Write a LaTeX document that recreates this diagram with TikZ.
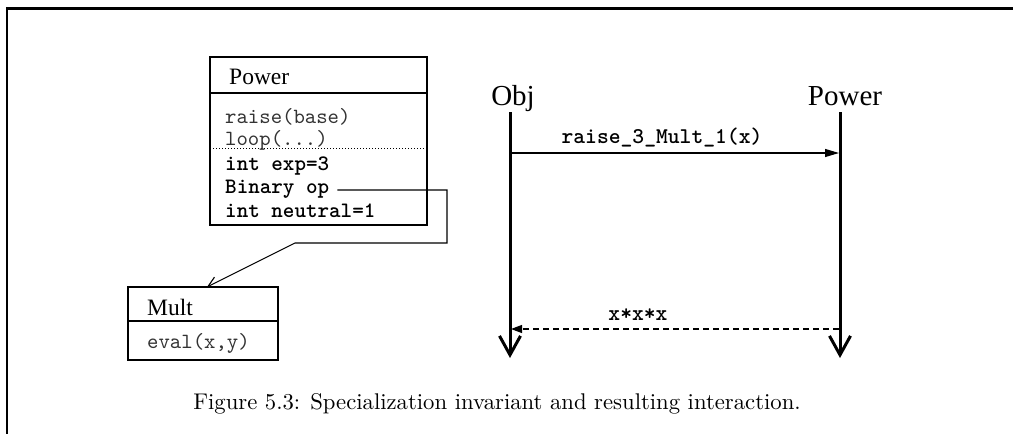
\documentclass[tikz,border=0pt]{standalone}
\usepackage{fontspec}
\usepackage{graphicx}
\usetikzlibrary{arrows.meta}
\newfontfamily\tms{Liberation Serif}
\newcommand{\monotext}[1]{\scalebox{2.17}{\ttfamily #1}}
\newcommand{\monobold}[1]{\scalebox{2.2}{\ttfamily\bfseries #1}}
\newcommand{\msgbold}[1]{\scalebox{2.25}{\ttfamily\bfseries #1}}
\tikzset{
  umlbox/.style={draw, line width=1.1pt},
  boxtitle/.style={anchor=base west, inner sep=0pt, font=\tms\fontsize{23.5}{26}\selectfont},
  optext/.style={anchor=base west, inner sep=0pt, text=black!80},
  attrtext/.style={anchor=base west, inner sep=0pt},
  msgtext/.style={anchor=base, inner sep=0pt},
  objlabel/.style={anchor=base, inner sep=0pt, font=\tms\fontsize{29}{32}\selectfont},
  lifeline/.style={line width=3pt, -{Straight Barb[length=19pt, width=21pt, line width=3pt]}},
  msg/.style={line width=1.1pt, -{Triangle[length=14pt, width=8pt]}},
  retmsg/.style={line width=1.1pt, dash pattern=on 6pt off 4pt, -{Triangle[length=11pt, width=8pt]}},
  link/.style={line width=1.1pt, -{Straight Barb[length=10pt, width=11pt, line width=1.1pt]}}
}
\begin{document}
\begin{tikzpicture}[x=1pt, y=-1pt]
  \useasboundingbox (0,0) rectangle (1013,434);
  % frame
  \draw[line width=2.6pt, line join=miter] (7,434) -- (7,8.5) -- (1013,8.5);

  % class Power
  \draw[umlbox] (210,57) rectangle (427,225);
  \draw[line width=1.1pt] (210,93) -- (427,93);
  \draw[line width=1pt, dotted] (210,148) -- (427,148);
  \node[boxtitle] (ptitle) at (229,84) {Power};
  \node[optext] (raise) at (225,123) {\monotext{raise(base)}};
  \node[optext] (loop) at (225,145) {\monotext{loop(...)}};
  \node[attrtext] (exp) at (225,170) {\monobold{int exp=3}};
  \node[attrtext] (op) at (225,193) {\monobold{Binary op}};
  \node[attrtext] (neutral) at (225,217) {\monobold{int neutral=1}};

  % class Mult
  \draw[umlbox] (128,287) rectangle (278,360);
  \draw[line width=1.1pt] (128,321) -- (278,321);
  \node[boxtitle] (mtitle) at (147,315) {Mult};
  \node[optext] (eval) at (147,348) {\monotext{eval(x,y)}};
  \coordinate (multtop) at (207,287);

  % association from the op attribute to Mult
  \coordinate (c1) at (447,190);
  \coordinate (c2) at (447,243);
  \coordinate (c3) at (295,243);
  \draw[link] ([xshift=8pt]op.east |- c1) -- (c1) -- (c2) -- (c3) -- (multtop);

  % sequence diagram
  \node[objlabel] (obj) at (513,105) {Obj};
  \node[objlabel] (pow) at (845,105) {Power};
  \coordinate (objtop) at (510,112);
  \coordinate (objbot) at (510,358);
  \coordinate (powtop) at (840,112);
  \coordinate (powbot) at (840,358);
  \draw[lifeline] (objtop) -- (objbot);
  \draw[lifeline] (powtop) -- (powbot);

  \coordinate (m1s) at (510,153);
  \coordinate (m1e) at (839,153);
  \draw[msg] (m1s) -- (m1e);
  \node[msgtext] (m1lab) at (662,143) {\msgbold{raise\_3\_Mult\_1(x)}};

  \coordinate (m2s) at (839,329);
  \coordinate (m2e) at (511,329);
  \draw[retmsg] (m2s) -- (m2e);
  \node[msgtext] (m2lab) at (638,320) {\msgbold{x*x*x}};

  % caption
  \node[anchor=base, inner sep=0pt] (cap) at (497,409)
    {\scalebox{2.27}{Figure 5.3: Specialization invariant and resulting interaction.}};
\end{tikzpicture}
\end{document}
